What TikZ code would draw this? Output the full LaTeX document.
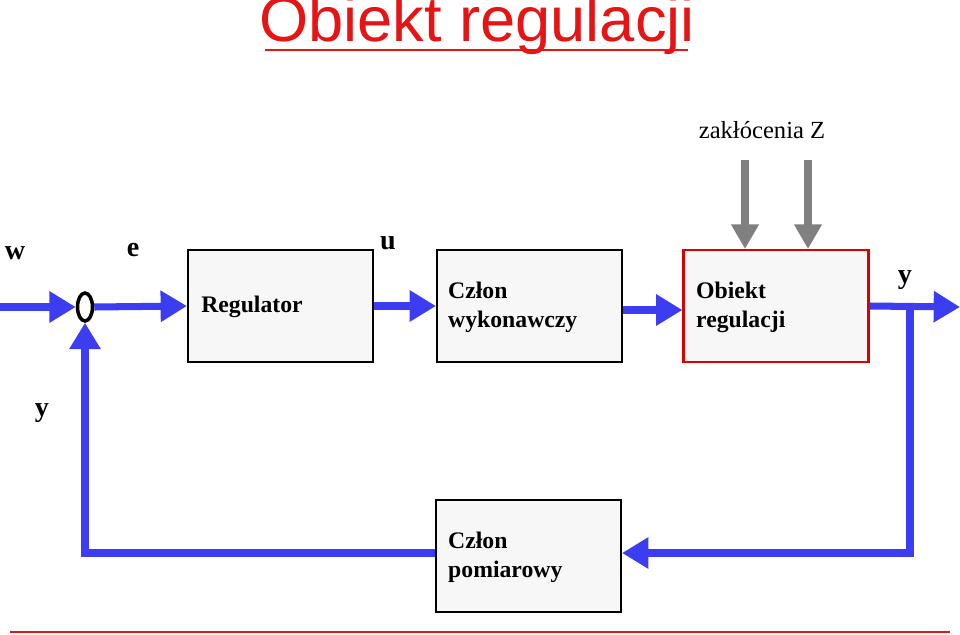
\documentclass[tikz,border=0pt]{standalone}
\usepackage{fontspec}
\setmainfont{Liberation Serif}
\newfontfamily\titlefont{Liberation Sans}
\usetikzlibrary{arrows.meta,positioning,shapes.geometric}
\definecolor{sigblue}{RGB}{60,60,240}
\definecolor{distgray}{RGB}{128,128,128}
\definecolor{titlered}{RGB}{230,20,20}
\tikzset{
  block/.style={draw=black, line width=1.2pt, fill=black!3, minimum width=3.7cm, minimum height=2.24cm},
  sig/.style={draw=sigblue, line width=4pt, line join=miter, -{Triangle[length=15pt,width=17pt]}},
  line/.style={draw=sigblue, line width=4pt, line join=miter},
  dist/.style={draw=distgray, line width=4pt, -{Triangle[length=14pt,width=15pt]}},
  lab/.style={font=\bfseries\fontsize{16}{16}\selectfont},
  txt/.style={font=\bfseries\fontsize{13.5}{16.5}\selectfont, align=left}
}
\begin{document}
\begin{tikzpicture}[x=0.02cm,y=-0.02cm]
  \useasboundingbox (0,0) rectangle (960,635);
  % title
  \node (title) at (477,25) {\titlefont\fontsize{36}{36}\selectfont\color{titlered}Obiekt regulacji};
  \draw[titlered, line width=1.5pt] (265,50) -- (688,50);
  \draw[titlered, line width=1pt] (10,632) -- (950,632);
  % blocks
  \node[block] (reg) at (280.5,306) {};
  \node[txt] at (252,307) {Regulator};
  \node[block] (wyk) at (529.5,306) {};
  \node[txt, anchor=west] at (442,307) {Człon\\wykonawczy};
  \node[block, draw=red!85!black] (obj) at (776,306) {};
  \node[txt, anchor=west] at (690,307) {Obiekt\\regulacji};
  \node[block] (pom) at (528.5,556) {};
  \node[txt, anchor=west] at (442,557) {Człon\\pomiarowy};
  % summing point
  \node[draw, ellipse, line width=2pt, minimum width=0.3cm, minimum height=0.56cm, inner sep=0pt] (sum) at (85,307) {};
  % inputs
  \coordinate (win) at (0,307);
  \draw[sig] (win) -- (sum.west);
  \draw[sig] (sum.east) -- (reg.west);
  \draw[sig] (reg.east) -- (wyk.west);
  \draw[sig] (wyk.east |- 0,310) -- (obj.west |- 0,310);
  \coordinate (yout) at (960,307);
  \draw[sig] (obj.east) -- (yout);
  % feedback
  \coordinate (tap) at (910,307);
  \coordinate (back) at (85,553);
  \draw[sig] (tap) |- (pom.east |- back);
  \draw[sig] (pom.west |- back) -| (sum.south);
  % disturbances
  \coordinate (z1) at (745,160);
  \coordinate (z2) at (808,160);
  \draw[dist] (z1) -- (z1 |- obj.north);
  \draw[dist] (z2) -- (z2 |- obj.north);
  % labels
  \node[txt, font=\fontsize{14}{16}\selectfont] (zlab) at (762,130) {zakłócenia Z};
  \node[lab] (wlab) at (15,253) {w};
  \node[lab] (elab) at (133,250) {e};
  \node[lab] (ulab) at (388,243) {u};
  \node[lab] (ylab) at (905,280) {y};
  \node[lab] (yfb) at (42,413) {y};
\end{tikzpicture}
\end{document}
